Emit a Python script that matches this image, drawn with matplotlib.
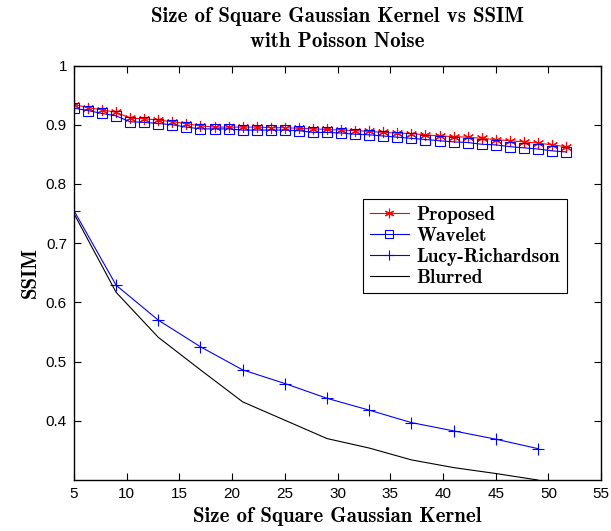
import os
import matplotlib
matplotlib.use('Agg')
import matplotlib.pyplot as plt
from matplotlib.font_manager import FontProperties

# kernel sizes sampled for the two top curves
x_fine = [5.00, 6.33, 7.67, 9.00, 10.33, 11.67, 13.00, 14.33, 15.67, 17.00, 18.33, 19.67,
          21.00, 22.33, 23.67, 25.00, 26.33, 27.67, 29.00, 30.33, 31.67, 33.00, 34.33, 35.67,
          37.00, 38.33, 39.67, 41.00, 42.33, 43.67, 45.00, 46.33, 47.67, 49.00, 50.33, 51.67]
proposed = [0.934, 0.929, 0.925, 0.921, 0.911, 0.910, 0.908, 0.905, 0.902, 0.898, 0.896, 0.896,
            0.896, 0.896, 0.895, 0.895, 0.894, 0.893, 0.892, 0.891, 0.890, 0.889, 0.887, 0.886,
            0.885, 0.883, 0.881, 0.880, 0.879, 0.877, 0.875, 0.873, 0.871, 0.869, 0.866, 0.863]
wavelet = [0.928, 0.924, 0.919, 0.915, 0.905, 0.904, 0.902, 0.900, 0.896, 0.893, 0.893, 0.893,
           0.891, 0.891, 0.891, 0.891, 0.890, 0.887, 0.887, 0.886, 0.884, 0.883, 0.881, 0.879,
           0.877, 0.875, 0.873, 0.871, 0.870, 0.867, 0.866, 0.863, 0.861, 0.859, 0.856, 0.854]

x_coarse = [5, 9, 13, 17, 21, 25, 29, 33, 37, 41, 45, 49]
lucy = [0.755, 0.629, 0.570, 0.525, 0.486, 0.463, 0.438, 0.418, 0.397, 0.383, 0.369, 0.353]
blurred = [0.750, 0.617, 0.541, 0.486, 0.432, 0.401, 0.370, 0.354, 0.334, 0.321, 0.311, 0.300]

xticks = [5, 10, 15, 20, 25, 30, 35, 40, 45, 50, 55]
yticks = [0.4, 0.5, 0.6, 0.7, 0.8, 0.9, 1.0]
ytick_labels = ['0.4', '0.5', '0.6', '0.7', '0.8', '0.9', '1']

cmb = os.path.join(matplotlib.get_data_path(), 'fonts', 'ttf', 'cmb10.ttf')
title_font = FontProperties(fname=cmb, size=15)
label_font = FontProperties(fname=cmb, size=15)
legend_font = FontProperties(fname=cmb, size=14)

plt.rcParams['font.family'] = ['Liberation Sans', 'DejaVu Sans']

fig = plt.figure(figsize=(6.11, 5.31), dpi=100)
ax = fig.add_axes([0.121, 0.096, 0.863, 0.7806])

ax.plot(x_fine, proposed, color='red', lw=0.8, marker=(6, 2, 0), ms=8,
        mew=0.8, label='Proposed')
ax.plot(x_fine, wavelet, color='blue', lw=0.8, marker='s', ms=7, mfc='none',
        mew=0.8, label='Wavelet')
ax.plot(x_coarse, lucy, color='blue', lw=0.8, marker='+', ms=9, mew=0.8,
        label='Lucy-Richardson')
ax.plot(x_coarse, blurred, color='black', lw=0.8, label='Blurred')

ax.set_xlim(5, 55)
ax.set_ylim(0.3, 1.0)
ax.set_xticks(xticks)
ax.set_yticks(yticks)
ax.set_yticklabels(ytick_labels)
ax.tick_params(direction='in', top=True, right=True, length=5, width=0.8,
               labelsize=11, pad=5)
for s in ax.spines.values():
    s.set_linewidth(1.0)

ax.set_title('Size of Square Gaussian Kernel vs SSIM\nwith Poisson Noise',
             fontproperties=title_font, pad=13, linespacing=1.4)
ax.set_xlabel('Size of Square Gaussian Kernel', fontproperties=label_font, labelpad=4)
ax.set_ylabel('SSIM', fontproperties=label_font, labelpad=4)

leg = ax.legend(prop=legend_font, loc='upper left', bbox_to_anchor=(0.548, 0.678),
                fancybox=False, edgecolor='black', framealpha=1, borderpad=0.35,
                labelspacing=0.15, handlelength=2.0, handletextpad=0.4,
                borderaxespad=0, markerscale=0.85)
leg.get_frame().set_linewidth(0.8)

fig.savefig('out.png', dpi=100)
